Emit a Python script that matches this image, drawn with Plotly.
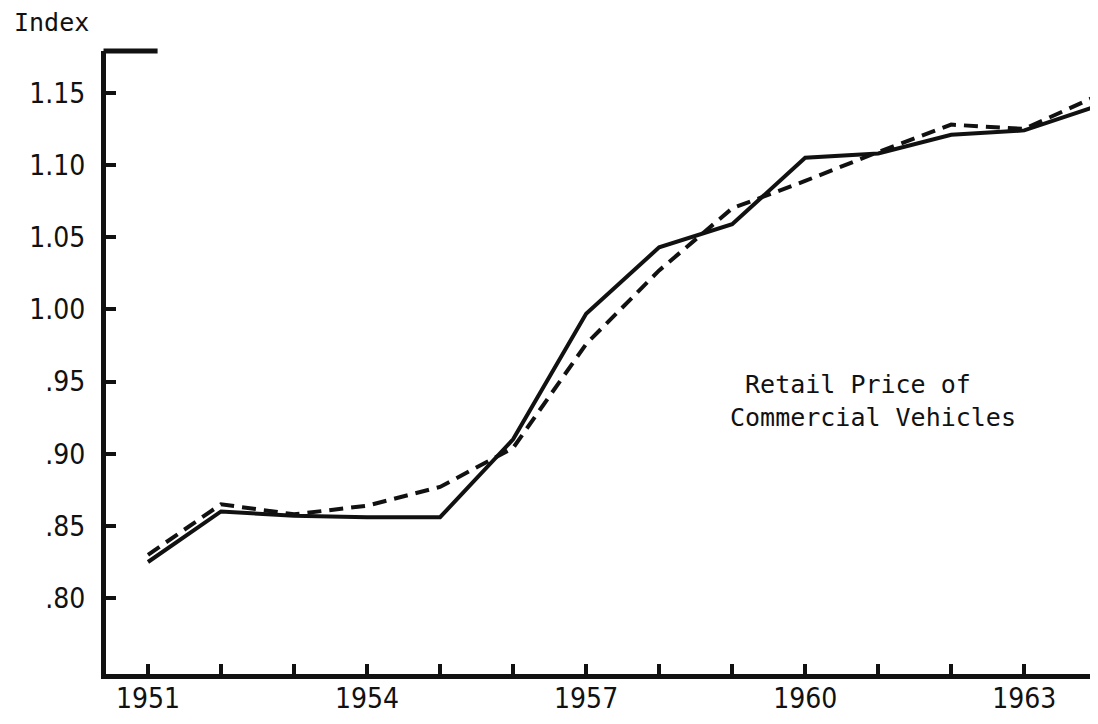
import plotly.graph_objects as go

years = list(range(1951, 1965))
retail_price = [0.825, 0.860, 0.857, 0.856, 0.856, 0.910, 0.997,
                1.043, 1.059, 1.105, 1.108, 1.121, 1.124, 1.141]
estimated = [0.830, 0.865, 0.858, 0.864, 0.877, 0.904, 0.976,
             1.027, 1.070, 1.089, 1.109, 1.128, 1.125, 1.148]

y_ticks = [0.80, 0.85, 0.90, 0.95, 1.00, 1.05, 1.10, 1.15]
y_labels = [".80", ".85", ".90", ".95", "1.00", "1.05", "1.10", "1.15"]
x_labeled = [1951, 1954, 1957, 1960, 1963]

ink = "#111111"
tick_font = dict(family="Liberation Sans Narrow, DejaVu Sans Condensed, Arial Narrow, sans-serif",
                 size=28, color=ink)
mono = dict(family="DejaVu Sans Mono, monospace", size=25, color=ink)

fig = go.Figure()

fig.add_trace(go.Scatter(x=years, y=retail_price, mode="lines",
                         line=dict(color=ink, width=4)))
fig.add_trace(go.Scatter(x=years, y=estimated, mode="lines",
                         line=dict(color=ink, width=4, dash="14px,8px")))

fig.update_xaxes(
    range=[1950.425, 1964.01],
    tickvals=years,
    ticktext=[str(y) if y in x_labeled else "" for y in years],
    ticks="inside", ticklen=10, tickwidth=4, tickcolor=ink,
    showline=True, linewidth=5, linecolor=ink,
    showgrid=False, zeroline=False, automargin=False,
    tickfont=tick_font, ticklabelstandoff=-5,
)
fig.update_yaxes(
    range=[0.7474, 1.179],
    tickvals=y_ticks, ticktext=y_labels,
    ticks="inside", ticklen=10, tickwidth=4, tickcolor=ink,
    showline=True, linewidth=5, linecolor=ink,
    showgrid=False, zeroline=False, automargin=False,
    tickfont=tick_font, ticklabelstandoff=10,
)

# short stub at the top of the y axis
fig.add_shape(type="line", xref="paper", yref="paper",
              x0=-0.0025, x1=0.052, y0=1, y1=1,
              line=dict(color=ink, width=5))

fig.add_annotation(text="Index", xref="paper", yref="paper",
                   x=-0.0948, y=1.045, xanchor="left", yanchor="middle",
                   showarrow=False, font=mono)
fig.add_annotation(text="\u00a0Retail Price of<br>Commercial Vehicles",
                   xref="paper", yref="paper", x=0.627, y=0.438,
                   xanchor="left", yanchor="middle", align="left",
                   showarrow=False, font=mono)

# page body keeps an 8px margin, so the figure is sized to fit inside it
fig.update_layout(
    width=1090, height=708,
    margin=dict(l=98, r=0, t=43, b=42),
    paper_bgcolor="white", plot_bgcolor="white",
    showlegend=False,
)

fig.write_html("out.html")
